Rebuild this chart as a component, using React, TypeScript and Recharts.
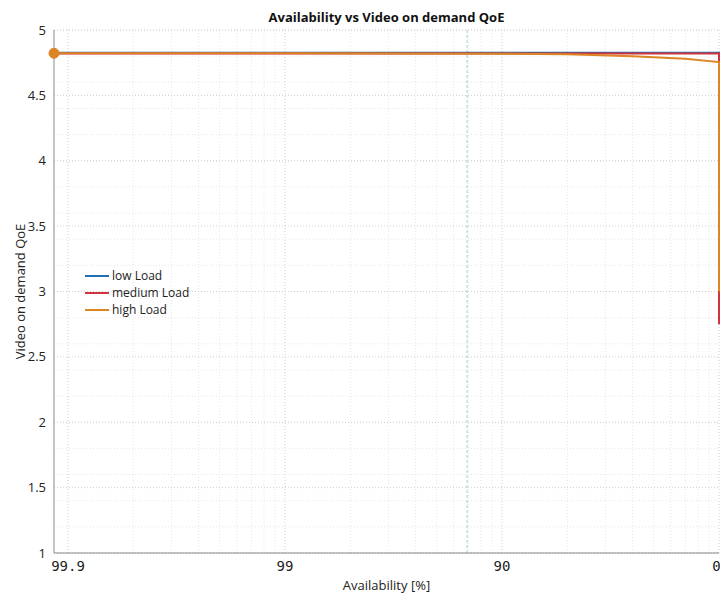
import {
  LineChart,
  Line,
  XAxis,
  YAxis,
  CartesianGrid,
  ReferenceLine,
} from 'recharts';

// x values are unavailability (100 - availability %), drawn on a log axis
const X_TICKS = [0.1, 1, 10, 100];
const X_TICK_LABELS = ['99.9', '99', '90', '0'];
const Y_TICKS = [1, 1.5, 2, 2.5, 3, 3.5, 4, 4.5, 5];

const LOW_X = [0.0862, 100, 100];
const LOW_Y = [4.826, 4.826, 3.0];
const MEDIUM_X = [0.0862, 100, 100];
const MEDIUM_Y = [4.82, 4.82, 2.75];
const HIGH_X = [0.0862, 1, 10, 20, 40, 70, 100, 100];
const HIGH_Y = [4.822, 4.822, 4.818, 4.814, 4.8, 4.78, 4.755, 3.0];

const MARKER_X = 6.9;

const SERIES = [
  { name: 'low Load', xs: LOW_X, ys: LOW_Y, color: '#1f6fb4' },
  { name: 'medium Load', xs: MEDIUM_X, ys: MEDIUM_Y, color: '#d0343c' },
  { name: 'high Load', xs: HIGH_X, ys: HIGH_Y, color: '#dd8425' },
];

const MINOR_X: number[] = [];
[0.1, 1, 10].forEach((d) => {
  for (let k = 2; k <= 9; k++) MINOR_X.push(d * k);
});
const MINOR_Y: number[] = [];
for (let i = 10; i <= 50; i++) MINOR_Y.push(i / 10);

const FONT = '"Open Sans", "Noto Sans", sans-serif';

function LegendBox() {
  return (
    <div
      style={{
        position: 'absolute',
        left: 85,
        top: 267,
        fontFamily: FONT,
        fontSize: 12,
        color: '#222',
        lineHeight: '17px',
      }}
    >
      {SERIES.map((s) => (
        <div key={s.name} style={{ display: 'flex', alignItems: 'center' }}>
          <span style={{ display: 'inline-block', width: 24, height: 2, background: s.color, marginRight: 3 }} />
          {s.name}
        </div>
      ))}
    </div>
  );
}

export default function App() {
  return (
    <div style={{ position: 'absolute', left: 0, top: 0, width: 720, height: 593, background: '#fff' }}>
      <div
        style={{
          position: 'absolute',
          top: 8,
          left: 54,
          width: 665,
          textAlign: 'center',
          fontFamily: FONT,
          fontWeight: 700,
          fontSize: 13,
          color: '#111',
        }}
      >
        Availability vs Video on demand QoE
      </div>
      <LineChart width={720} height={593} margin={{ top: 30, right: 1, bottom: 0, left: 0 }}>
        <CartesianGrid
          stroke="#e6e6e6"
          strokeDasharray="1 2"
          horizontalValues={MINOR_Y}
          verticalValues={MINOR_X}
        />
        <CartesianGrid
          stroke="#cfcfcf"
          strokeDasharray="1 2"
          horizontalValues={Y_TICKS}
          verticalValues={X_TICKS}
        />
        <XAxis
          type="number"
          dataKey="x"
          scale="log"
          domain={[0.0862, 100]}
          ticks={X_TICKS}
          tickFormatter={(v: number) => X_TICK_LABELS[X_TICKS.indexOf(v)] ?? ''}
          height={40}
          stroke="#8a8a8a"
          tickLine={false}
          tick={{ fill: '#222', fontSize: 14, fontFamily: '"DejaVu Sans Mono", monospace' }}
          label={{
            value: 'Availability [%]',
            position: 'insideBottom',
            offset: 3,
            fill: '#222',
            fontSize: 13,
            fontFamily: FONT,
          }}
        />
        <XAxis
          xAxisId="top"
          orientation="top"
          type="number"
          scale="log"
          domain={[0.0862, 100]}
          height={0}
          tick={false}
          tickLine={false}
          stroke="#8a8a8a"
        />
        <YAxis
          type="number"
          domain={[1, 5]}
          ticks={Y_TICKS}
          width={54}
          stroke="#8a8a8a"
          tickLine={false}
          tick={{ fill: '#222', fontSize: 13, fontFamily: FONT }}
          label={{
            value: 'Video on demand QoE',
            angle: -90,
            position: 'insideLeft',
            offset: 20,
            style: { textAnchor: 'middle' },
            fill: '#222',
            fontSize: 13,
            fontFamily: FONT,
          }}
        />
        <ReferenceLine x={MARKER_X} stroke="#9fd3cb" strokeDasharray="3 2" />
        {SERIES.map((s) => (
          <Line
            key={s.name}
            name={s.name}
            data={s.xs.map((x, i) => ({ x, y: s.ys[i] }))}
            dataKey="y"
            type="linear"
            stroke={s.color}
            strokeWidth={2}
            isAnimationActive={false}
            dot={(p: any) =>
              s.name === 'high Load' && p.index === 0 ? (
                <circle key={`d${p.index}`} cx={p.cx} cy={p.cy} r={5} fill={s.color} stroke={s.color} />
              ) : (
                <g key={`d${p.index}`} />
              )
            }
            activeDot={false}
          />
        ))}
      </LineChart>
      <LegendBox />
    </div>
  );
}
